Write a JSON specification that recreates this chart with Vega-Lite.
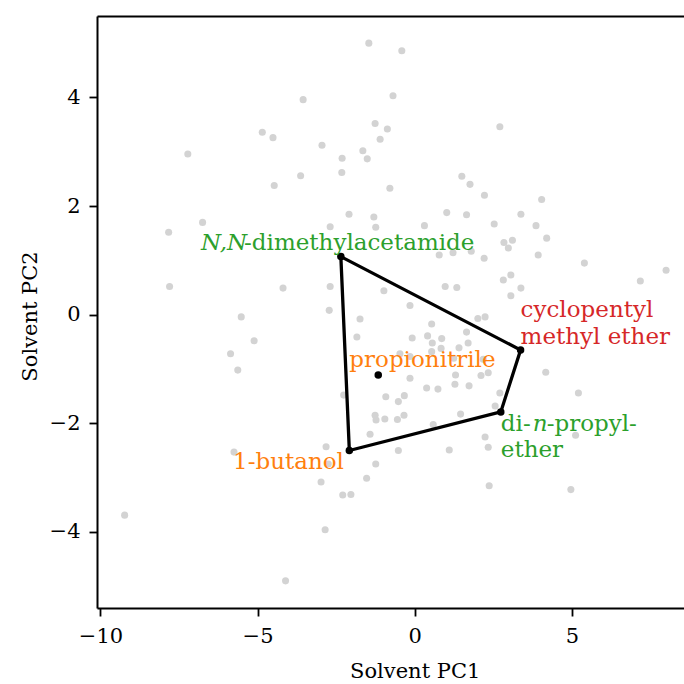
{
  "$schema": "https://vega.github.io/schema/vega-lite/v6.json",
  "width": 587,
  "height": 592,
  "autosize": "none",
  "padding": {"left": 97, "top": 16, "right": 0, "bottom": 76},
  "config": {
    "view": {"stroke": null},
    "font": "DejaVu Serif",
    "axis": {
      "grid": false,
      "domainColor": "black",
      "domainWidth": 2,
      "tickColor": "black",
      "tickWidth": 1.8,
      "tickSize": 8,
      "labelFont": "DejaVu Serif",
      "labelFontSize": 21,
      "labelColor": "black",
      "labelPadding": 9,
      "titleFont": "DejaVu Serif",
      "titleFontSize": 21,
      "titleFontWeight": "normal",
      "titleColor": "black"
    }
  },
  "datasets": {
    "solvents": [
      {"x": -1.46, "y": 5.00}, {"x": -0.41, "y": 4.86}, {"x": -3.55, "y": 3.96}, {"x": -0.69, "y": 4.03},
      {"x": -4.85, "y": 3.36}, {"x": -4.51, "y": 3.26}, {"x": -7.22, "y": 2.96}, {"x": -1.26, "y": 3.52},
      {"x": -0.87, "y": 3.42}, {"x": -1.10, "y": 3.23}, {"x": -2.95, "y": 3.12}, {"x": -1.65, "y": 3.02},
      {"x": -2.31, "y": 2.88}, {"x": -1.51, "y": 2.87}, {"x": -3.63, "y": 2.56}, {"x": -2.32, "y": 2.62},
      {"x": -4.47, "y": 2.38}, {"x": -0.79, "y": 2.33}, {"x": 1.50, "y": 2.55}, {"x": 1.76, "y": 2.40},
      {"x": 2.22, "y": 2.20}, {"x": 2.71, "y": 3.46}, {"x": 4.04, "y": 2.12}, {"x": 3.38, "y": 1.85},
      {"x": -2.09, "y": 1.85}, {"x": -1.30, "y": 1.80}, {"x": -1.24, "y": 1.61}, {"x": -2.69, "y": 1.62},
      {"x": 0.31, "y": 1.64}, {"x": 1.02, "y": 1.88}, {"x": 1.65, "y": 1.84}, {"x": 2.53, "y": 1.67},
      {"x": 3.86, "y": 1.64}, {"x": 2.84, "y": 1.33}, {"x": 3.11, "y": 1.37}, {"x": 2.98, "y": 1.23},
      {"x": 4.20, "y": 1.41}, {"x": 0.78, "y": 1.10}, {"x": 1.22, "y": 1.14}, {"x": 1.80, "y": 1.17},
      {"x": 2.21, "y": 1.04}, {"x": 3.93, "y": 1.10}, {"x": 5.40, "y": 0.95}, {"x": 8.00, "y": 0.82},
      {"x": 7.18, "y": 0.62}, {"x": 2.82, "y": 0.64}, {"x": 3.06, "y": 0.73}, {"x": 3.38, "y": 0.49},
      {"x": 3.06, "y": 0.35}, {"x": -7.83, "y": 1.52}, {"x": -6.75, "y": 1.70}, {"x": -7.80, "y": 0.52},
      {"x": -4.19, "y": 0.49}, {"x": -5.52, "y": -0.04}, {"x": -5.11, "y": -0.48}, {"x": -5.86, "y": -0.72},
      {"x": -5.63, "y": -1.02}, {"x": -2.69, "y": 0.52}, {"x": -0.98, "y": 0.44}, {"x": 0.97, "y": 0.52},
      {"x": 1.34, "y": 0.50}, {"x": -2.72, "y": 0.08}, {"x": -0.15, "y": 0.17}, {"x": -1.74, "y": -0.08},
      {"x": 0.54, "y": -0.17}, {"x": 2.01, "y": -0.07}, {"x": 2.24, "y": -0.04}, {"x": -1.84, "y": -0.41},
      {"x": -0.08, "y": -0.43}, {"x": 0.41, "y": -0.39}, {"x": 0.56, "y": -0.52}, {"x": 0.86, "y": -0.44},
      {"x": 1.65, "y": -0.32}, {"x": 1.70, "y": -0.52}, {"x": 0.84, "y": -0.62}, {"x": 0.54, "y": -0.68},
      {"x": -0.47, "y": -0.72}, {"x": -0.15, "y": -0.77}, {"x": 1.41, "y": -0.61}, {"x": 1.24, "y": -0.80},
      {"x": 2.18, "y": -0.82}, {"x": -0.15, "y": -1.17}, {"x": 1.30, "y": -1.11}, {"x": 0.38, "y": -1.35},
      {"x": 0.74, "y": -1.37}, {"x": 1.28, "y": -1.28}, {"x": 1.73, "y": -1.31}, {"x": 2.11, "y": -1.12},
      {"x": 2.34, "y": -1.07}, {"x": -0.92, "y": -1.51}, {"x": -0.33, "y": -1.49}, {"x": -2.26, "y": -1.48},
      {"x": 4.17, "y": -1.06}, {"x": 2.71, "y": -1.44}, {"x": 5.21, "y": -1.44}, {"x": -0.52, "y": -1.60},
      {"x": -1.26, "y": -1.85}, {"x": -1.23, "y": -1.94}, {"x": -0.95, "y": -1.92}, {"x": -0.55, "y": -1.93},
      {"x": -0.34, "y": -1.85}, {"x": 1.46, "y": -1.83}, {"x": 0.59, "y": -2.02}, {"x": -1.42, "y": -2.20},
      {"x": -2.82, "y": -2.43}, {"x": -0.52, "y": -2.50}, {"x": 1.10, "y": -2.49}, {"x": 2.24, "y": -2.25},
      {"x": 2.34, "y": -2.44}, {"x": -2.75, "y": -2.75}, {"x": -1.24, "y": -2.75}, {"x": -2.98, "y": -3.08},
      {"x": -1.53, "y": -3.01}, {"x": -2.29, "y": -3.32}, {"x": -2.03, "y": -3.31}, {"x": -2.85, "y": -3.96},
      {"x": 2.37, "y": -3.15}, {"x": 2.56, "y": -1.68}, {"x": 5.12, "y": -2.22}, {"x": 4.97, "y": -3.22},
      {"x": -5.75, "y": -2.53}, {"x": -9.23, "y": -3.69}, {"x": -4.11, "y": -4.90}
    ],
    "hull": [
      {"name": "N,N-dimethylacetamide", "order": 1, "x": -2.35, "y": 1.07},
      {"name": "cyclopentyl methyl ether", "order": 2, "x": 3.37, "y": -0.65},
      {"name": "di-n-propyl ether", "order": 3, "x": 2.74, "y": -1.79},
      {"name": "1-butanol", "order": 4, "x": -2.08, "y": -2.50},
      {"name": "N,N-dimethylacetamide", "order": 5, "x": -2.35, "y": 1.07}
    ],
    "picked": [
      {"name": "N,N-dimethylacetamide", "x": -2.35, "y": 1.07},
      {"name": "cyclopentyl methyl ether", "x": 3.37, "y": -0.65},
      {"name": "di-n-propyl ether", "x": 2.74, "y": -1.79},
      {"name": "1-butanol", "x": -2.08, "y": -2.50},
      {"name": "propionitrile", "x": -1.16, "y": -1.11}
    ],
    "labels": [
      {"text": "N,N", "italic": true, "group": "green", "x": -6.80, "y": 1.19},
      {"text": "-dimethylacetamide", "italic": false, "group": "green", "x": -5.43, "y": 1.19},
      {"text": "propionitrile", "italic": false, "group": "orange", "x": -2.08, "y": -0.96},
      {"text": "cyclopentyl", "italic": false, "group": "red", "x": 3.37, "y": -0.05},
      {"text": "methyl ether", "italic": false, "group": "red", "x": 3.37, "y": -0.54},
      {"text": "di-", "italic": false, "group": "green", "x": 2.74, "y": -2.135},
      {"text": "n", "italic": true, "group": "green", "x": 3.756, "y": -2.135},
      {"text": "-propyl-", "italic": false, "group": "green", "x": 4.20, "y": -2.135},
      {"text": "ether", "italic": false, "group": "green", "x": 2.74, "y": -2.625},
      {"text": "1-butanol", "italic": false, "group": "orange", "x": -5.78, "y": -2.84}
    ]
  },
  "resolve": {"axis": {"x": "independent"}},
  "layer": [
    {
      "encoding": {
        "x": {
          "field": "x", "type": "quantitative",
          "scale": {"domain": [-10.11, 8.57], "nice": false, "zero": false},
          "axis": {"orient": "bottom", "values": [-10, -5, 0, 5], "title": "Solvent PC1", "titleX": 317.7, "titleY": 69, "titleBaseline": "alphabetic", "titleAlign": "center"}
        },
        "y": {
          "field": "y", "type": "quantitative",
          "scale": {"domain": [-5.40, 5.50], "nice": false, "zero": false},
          "axis": {"values": [-4, -2, 0, 2, 4], "title": "Solvent PC2", "titleX": -61, "titleY": 300, "titleAngle": -90, "titleBaseline": "alphabetic", "titleAlign": "center"}
        }
      },
      "layer": [
        {
          "data": {"name": "solvents"},
          "mark": {"type": "circle", "size": 50, "color": "#d3d3d3", "opacity": 1}
        },
        {
          "data": {"name": "hull"},
          "mark": {"type": "line", "color": "black", "strokeWidth": 3.3},
          "encoding": {"order": {"field": "order", "type": "quantitative"}}
        },
        {
          "data": {"name": "picked"},
          "mark": {"type": "circle", "size": 56, "color": "black", "opacity": 1}
        },
        {
          "data": {"name": "labels"},
          "transform": [{"filter": "!datum.italic"}],
          "mark": {"type": "text", "align": "left", "baseline": "alphabetic", "font": "DejaVu Serif", "fontSize": 23},
          "encoding": {
            "text": {"field": "text"},
            "color": {"field": "group", "type": "nominal", "scale": {"domain": ["green", "orange", "red"], "range": ["#2ca02c", "#ff7f0e", "#d62728"]}, "legend": null}
          }
        },
        {
          "data": {"name": "labels"},
          "transform": [{"filter": "datum.italic"}],
          "mark": {"type": "text", "align": "left", "baseline": "alphabetic", "font": "DejaVu Serif", "fontSize": 23, "fontStyle": "italic"},
          "encoding": {
            "text": {"field": "text"},
            "color": {"field": "group", "type": "nominal", "scale": {"domain": ["green", "orange", "red"], "range": ["#2ca02c", "#ff7f0e", "#d62728"]}, "legend": null}
          }
        }
      ]
    },
    {
      "data": {"name": "picked"},
      "mark": {"type": "point", "opacity": 0},
      "encoding": {
        "x": {
          "field": "x", "type": "quantitative",
          "scale": {"domain": [-10.11, 8.57], "nice": false, "zero": false},
          "axis": {"orient": "top", "labels": false, "ticks": false, "title": null, "domain": true}
        }
      }
    }
  ]
}
